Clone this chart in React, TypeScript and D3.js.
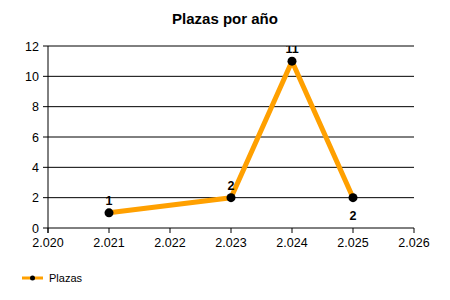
import React from "react";
import * as d3 from "d3";

const years = [2021, 2023, 2024, 2025];
const values = [1, 2, 11, 2];
const labelPos = ["above", "above", "above", "below"];
const xTicks = [2020, 2021, 2022, 2023, 2024, 2025, 2026];
const yTicks = [0, 2, 4, 6, 8, 10, 12];
const title = "Plazas por año";
const seriesName = "Plazas";

export default function App() {
  const W = 450, H = 300;
  const left = 48, right = 414, top = 46, bottom = 228;
  const x = d3.scaleLinear().domain([2020, 2026]).range([left, right]);
  const y = d3.scaleLinear().domain([0, 12]).range([bottom, top]);
  const line = d3.line<number>().x((_, i) => x(years[i])).y((v) => y(v));
  const fmt = (v: number) => (v / 1000).toFixed(3);
  const font = "Liberation Sans, Arial, sans-serif";
  const orange = "#FFA000";
  return (
    <svg width={W} height={H} style={{ position: "absolute", left: 0, top: 0, background: "#fff" }} fontFamily={font}>
      <rect width={W} height={H} fill="#fff" />
      <defs>
        <clipPath id="plot">
          <rect x={left} y={top} width={right - left} height={bottom - top + 10} />
        </clipPath>
      </defs>
      <text x={225} y={24} textAnchor="middle" fontWeight="bold" fontSize={15}>{title}</text>
      {yTicks.map((t) => (
        <g key={t}>
          <line x1={left - 5} x2={right} y1={y(t)} y2={y(t)} stroke="#000" strokeWidth={1} />
          <text x={39} y={y(t) + 4.5} textAnchor="end" fontSize={12.5}>{t}</text>
        </g>
      ))}
      <line x1={left} x2={left} y1={top} y2={bottom + 5} stroke="#000" />
      {xTicks.map((t) => (
        <g key={t}>
          <line x1={x(t)} x2={x(t)} y1={bottom} y2={bottom + 5} stroke="#000" />
          <text x={x(t)} y={bottom + 19} textAnchor="middle" fontSize={12.5}>{fmt(t)}</text>
        </g>
      ))}
      <g clipPath="url(#plot)">
        <path d={line(values) || ""} fill="none" stroke={orange} strokeWidth={5} strokeLinejoin="round" />
        {values.map((v, i) => (
          <circle key={i} cx={x(years[i])} cy={y(v)} r={4.5} fill="#000" />
        ))}
        {values.map((v, i) => (
          <text key={"l" + i} x={x(years[i])} y={labelPos[i] === "above" ? y(v) - 8 : y(v) + 22}
            textAnchor="middle" fontWeight="bold" fontSize={12.5}>{v}</text>
        ))}
      </g>
      <line x1={22} x2={43} y1={278} y2={278} stroke={orange} strokeWidth={3} />
      <circle cx={32.5} cy={278} r={2.5} fill="#000" />
      <text x={49} y={282} fontSize={11}>{seriesName}</text>
    </svg>
  );
}
